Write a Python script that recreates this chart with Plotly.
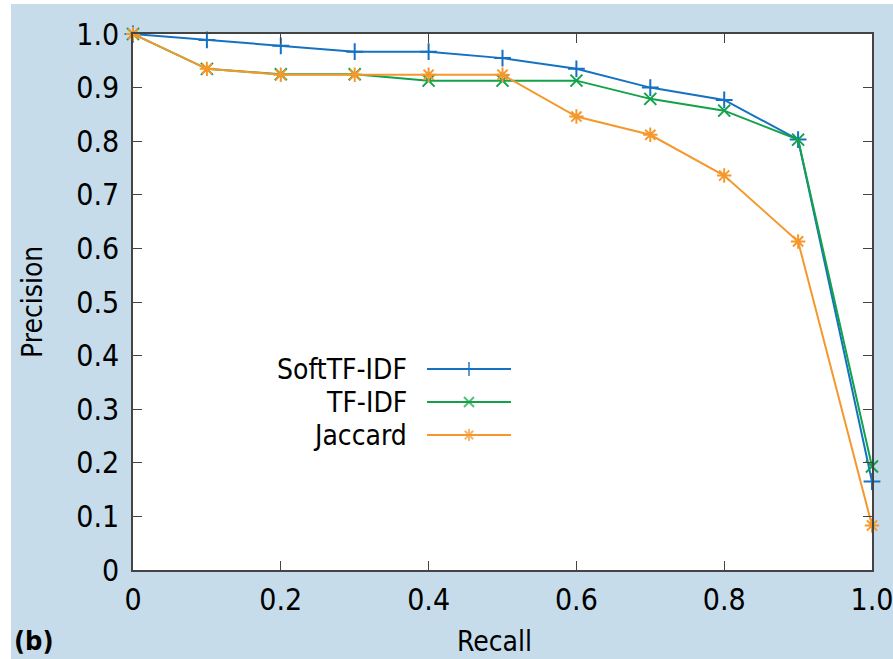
import plotly.graph_objects as go

recall = [0, 0.1, 0.2, 0.3, 0.4, 0.5, 0.6, 0.7, 0.8, 0.9, 1.0]
soft_tfidf = [1.0, 0.989, 0.978, 0.967, 0.967, 0.955, 0.935, 0.90, 0.877, 0.803, 0.165]
tfidf = [1.0, 0.935, 0.925, 0.925, 0.913, 0.913, 0.913, 0.879, 0.857, 0.803, 0.193]
jaccard = [1.0, 0.935, 0.924, 0.924, 0.924, 0.924, 0.846, 0.812, 0.736, 0.613, 0.083]

series_names = ["SoftTF-IDF", "TF-IDF", "Jaccard"]
series_values = [soft_tfidf, tfidf, jaccard]
colors = ["#1572c2", "#12a24a", "#f5982c"]
symbols = ["cross-thin", "x-thin", "asterisk"]

x_ticks = [0, 0.2, 0.4, 0.6, 0.8, 1.0]
x_ticklabels = ["0", "0.2", "0.4", "0.6", "0.8", "1.0"]
y_ticks = [0, 0.1, 0.2, 0.3, 0.4, 0.5, 0.6, 0.7, 0.8, 0.9, 1.0]
y_ticklabels = ["0", "0.1", "0.2", "0.3", "0.4", "0.5", "0.6", "0.7", "0.8", "0.9", "1.0"]

FONT = "Liberation Sans Narrow, DejaVu Sans Condensed, Roboto Condensed, Arial Narrow, sans-serif"
BG = "#c6dcea"

W, H = 893, 659
L, R, T, B = 133, 21, 34, 89
pw, ph = W - L - R, H - T - B

def px_to_paper_x(px):
    return (px - L) / pw

def px_to_paper_y(py):
    return (H - B - py) / ph

fig = go.Figure()

for name, vals, c, s in zip(series_names, series_values, colors, symbols):
    fig.add_trace(go.Scatter(
        x=recall, y=vals, mode="lines+markers", name=name,
        line=dict(color=c, width=2),
        marker=dict(symbol=s, size=12, color=c, line=dict(color=c, width=2)),
        showlegend=False, cliponaxis=False,
    ))

# manual legend (text left of sample, like the reference)
leg_rows = [369, 402, 435]
lx0, lxm, lx1 = px_to_paper_x(427), px_to_paper_x(469), px_to_paper_x(511)
for name, c, s, ry in zip(series_names, colors, symbols, leg_rows):
    yy = px_to_paper_y(ry)
    fig.add_trace(go.Scatter(
        x=[lx0, lxm, lx1], y=[yy, yy, yy], mode="lines+markers",
        xaxis="x2", yaxis="y2",
        line=dict(color=c, width=2),
        marker=dict(symbol=s, size=[0, 10, 0], color=c, line=dict(color=c, width=2)),
        showlegend=False, hoverinfo="skip",
    ))
    fig.add_annotation(
        x=px_to_paper_x(409), y=yy, xref="paper", yref="paper",
        text=name, showarrow=False, xanchor="right", yanchor="middle",
        font=dict(family=FONT, size=28, color="black"),
    )

# white strips at the left and top edge of the picture
fig.add_shape(type="rect", xref="paper", yref="paper", layer="above",
              x0=px_to_paper_x(-5), x1=px_to_paper_x(11),
              y0=px_to_paper_y(H + 5), y1=px_to_paper_y(-5),
              fillcolor="white", line=dict(width=0))
fig.add_shape(type="rect", xref="paper", yref="paper", layer="above",
              x0=px_to_paper_x(-5), x1=px_to_paper_x(W + 5),
              y0=px_to_paper_y(4), y1=px_to_paper_y(-5),
              fillcolor="white", line=dict(width=0))

# axis titles as annotations
fig.add_annotation(
    x=px_to_paper_x(494), y=px_to_paper_y(641), xref="paper", yref="paper",
    text="Recall", showarrow=False, xanchor="center", yanchor="middle",
    font=dict(family=FONT, size=28, color="black"),
)
fig.add_annotation(
    x=px_to_paper_x(32), y=px_to_paper_y(302), xref="paper", yref="paper",
    text="Precision", showarrow=False, xanchor="center", yanchor="middle", textangle=-90,
    font=dict(family=FONT, size=28, color="black"),
)
fig.add_annotation(
    x=px_to_paper_x(12), y=px_to_paper_y(640), xref="paper", yref="paper",
    text="<b>(b)</b>", showarrow=False, xanchor="left", yanchor="middle",
    font=dict(family="DejaVu Sans Condensed, Liberation Sans Narrow, sans-serif", size=27, color="black"),
)

axis_common = dict(
    showline=True, linecolor="#444444", linewidth=1.5, mirror="ticks",
    ticks="inside", ticklen=9, tickwidth=1.2, tickcolor="#444444",
    showgrid=False, zeroline=False, automargin=False,
    ticklabeloverflow="allow",
    tickfont=dict(family=FONT, size=30, color="black"),
)

fig.update_layout(
    width=W, height=H,
    margin=dict(l=L, r=R, t=T, b=B),
    paper_bgcolor=BG, plot_bgcolor="white",
    xaxis=dict(range=[0, 1], tickvals=x_ticks, ticktext=x_ticklabels,
               ticklabelstandoff=2, **axis_common),
    yaxis=dict(range=[0, 1], tickvals=y_ticks, ticktext=y_ticklabels,
               ticklabelstandoff=6, **axis_common),
    xaxis2=dict(range=[0, 1], overlaying="x", visible=False, fixedrange=True),
    yaxis2=dict(range=[0, 1], overlaying="y", visible=False, fixedrange=True),
)

fig.write_html("out.html", post_script="document.body.style.margin='0px';",
               config={"displayModeBar": False})
